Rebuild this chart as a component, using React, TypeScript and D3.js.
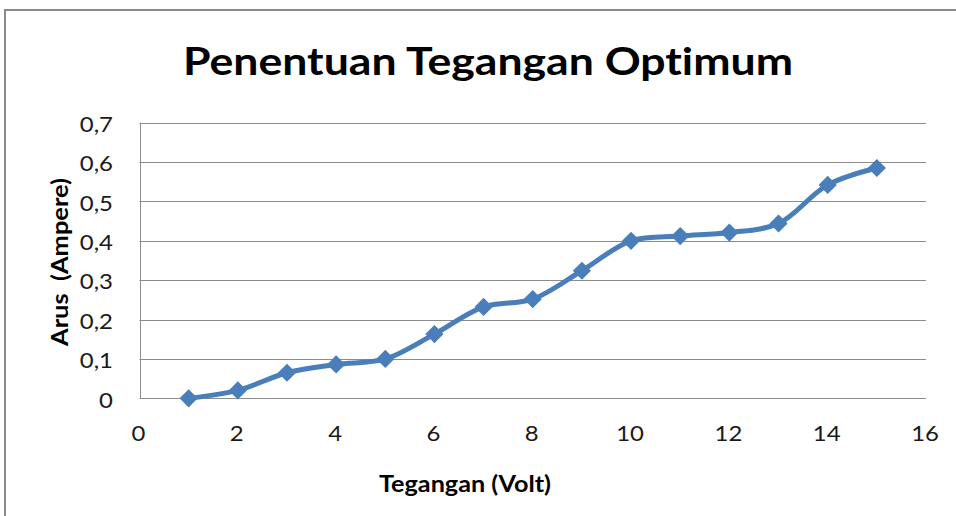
import React, { useEffect, useRef } from "react";
import * as d3 from "d3";

const voltages = [1, 2, 3, 4, 5, 6, 7, 8, 9, 10, 11, 12, 13, 14, 15];
const currents = [0, 0.02, 0.065, 0.086, 0.1, 0.163, 0.232, 0.252, 0.324, 0.4, 0.412, 0.421, 0.444, 0.542, 0.585];
const xTicks = [0, 2, 4, 6, 8, 10, 12, 14, 16];
const yTicks = [0, 0.1, 0.2, 0.3, 0.4, 0.5, 0.6, 0.7];
const titleText = "Penentuan Tegangan Optimum";
const xTitle = "Tegangan (Volt)";
const yTitle = "Arus  (Ampere)";

const W = 956;
const H = 516;
const FONT = "Lato, 'Open Sans', sans-serif";

export default function App() {
  const ref = useRef<SVGSVGElement>(null);

  useEffect(() => {
    document.body.style.margin = "0";
    document.body.style.overflow = "hidden";
    const svg = d3.select(ref.current);
    svg.selectAll("*").remove();

    const left = 139.5, right = 926, top = 122.7, bottom = 398.3;
    const x = d3.scaleLinear().domain([0, 16]).range([left, right]);
    const y = d3.scaleLinear().domain([0, 0.7]).range([bottom, top]);

    svg.append("rect").attr("width", W).attr("height", H).attr("fill", "#fff");
    // outer chart border: only left and top edges are visible (rest cropped)
    svg.append("path")
      .attr("d", `M5,${H}V10H${W}`)
      .attr("fill", "none").attr("stroke", "#8a8a8a").attr("stroke-width", 2);

    // gridlines
    svg.append("g").selectAll("line").data(yTicks).join("line")
      .attr("x1", left).attr("x2", right)
      .attr("y1", (d) => Math.round(y(d)) + 0.5).attr("y2", (d) => Math.round(y(d)) + 0.5)
      .attr("stroke", "#8c8c8c").attr("stroke-width", 1);
    // left axis line
    svg.append("line")
      .attr("x1", Math.round(left) + 0.5).attr("x2", Math.round(left) + 0.5)
      .attr("y1", top).attr("y2", bottom)
      .attr("stroke", "#8c8c8c").attr("stroke-width", 1);

    const fmt = (d: number) => d3.format(".1~f")(d).replace(".", ",");
    const SX = 1.14;

    svg.append("g").selectAll("text").data(yTicks).join("text")
      .attr("transform", (d) => `translate(113,${y(d) + 9.3}) scale(${SX},1)`)
      .attr("text-anchor", "end")
      .attr("font-family", FONT).attr("font-size", 21).attr("fill", "#1a1a1a")
      .text((d) => fmt(d));

    svg.append("g").selectAll("text").data(xTicks).join("text")
      .attr("transform", (d) => `translate(${x(d) - 1},441) scale(${SX},1)`)
      .attr("text-anchor", "middle")
      .attr("font-family", FONT).attr("font-size", 21).attr("fill", "#1a1a1a")
      .text((d) => String(d));

    // title
    svg.append("text")
      .attr("x", 488).attr("y", 75)
      .attr("text-anchor", "middle")
      .attr("font-family", FONT).attr("font-weight", "bold").attr("font-size", 38)
      .attr("textLength", 610).attr("lengthAdjust", "spacingAndGlyphs")
      .style("font-variant-ligatures", "none")
      .attr("fill", "#000")
      .text(titleText);

    svg.append("text")
      .attr("x", 465).attr("y", 492)
      .attr("text-anchor", "middle")
      .attr("font-family", FONT).attr("font-weight", "bold").attr("font-size", 23)
      .attr("textLength", 172).attr("lengthAdjust", "spacingAndGlyphs")
      .style("font-variant-ligatures", "none")
      .attr("fill", "#000")
      .text(xTitle);

    svg.append("text")
      .attr("transform", `translate(68,262) rotate(-90)`)
      .attr("text-anchor", "middle")
      .attr("font-family", FONT).attr("font-weight", "bold").attr("font-size", 23)
      .attr("textLength", 168).attr("lengthAdjust", "spacingAndGlyphs")
      .attr("fill", "#000")
      .style("white-space", "pre")
      .text(yTitle);

    const pts = voltages.map((v, i) => [v, currents[i]] as [number, number]);
    const line = d3.line<[number, number]>()
      .x((d) => x(d[0])).y((d) => y(d[1]))
      .curve(d3.curveCatmullRom.alpha(0.5));

    const color = "#4a7ebb";
    svg.append("path").attr("d", line(pts) || "")
      .attr("fill", "none").attr("stroke", color).attr("stroke-width", 5)
      .attr("stroke-linejoin", "round").attr("stroke-linecap", "round");

    svg.append("g").selectAll("path").data(pts).join("path")
      .attr("transform", (d) => `translate(${x(d[0])},${y(d[1])}) rotate(45)`)
      .attr("d", d3.symbol().type(d3.symbolSquare).size(165)() || "")
      .attr("fill", color);
  }, []);

  return (
    <svg ref={ref} width={W} height={H} style={{ display: "block", position: "absolute", left: 0, top: 0 }} />
  );
}
